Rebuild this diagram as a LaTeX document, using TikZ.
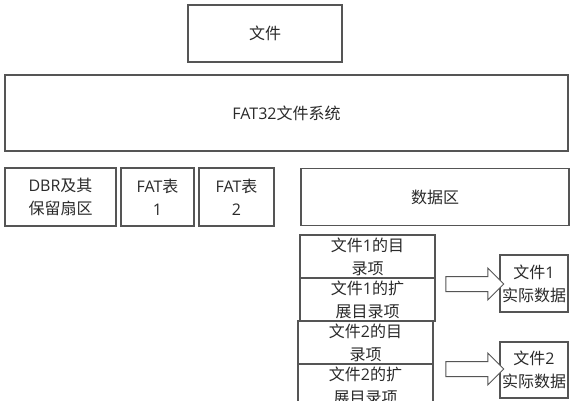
\documentclass[tikz,border=0pt]{standalone}
\usepackage{fontspec}
\setmainfont{Noto Sans CJK SC}
\newfontfamily\lat{Open Sans}
\usetikzlibrary{shapes.arrows}
\definecolor{linegray}{HTML}{555555}
\definecolor{textgray}{HTML}{2a2a2a}
\newcommand{\LT}[1]{{\lat #1}}
\tikzset{
  boxx/.style={draw=linegray, line width=1.2pt, rectangle, inner sep=1pt, align=center,
    text=textgray, font=\fontsize{16}{23}\selectfont},
  blockarr/.style={draw=linegray, line width=1pt, fill=white, single arrow,
    single arrow head extend=8.5pt, minimum height=58pt, inner xsep=0pt, inner ysep=7pt,
    single arrow tip angle=90, shape border rotate=0}
}
\begin{document}
\begin{tikzpicture}[x=1pt,y=-1pt]
\useasboundingbox (0,0) rectangle (575,400);
\clip (0,0) rectangle (575,400);
\fill[white] (0,0) rectangle (575,400);
\node[boxx, minimum width=154pt, minimum height=57pt] (file) at (265,33.5) {文件};
\node[boxx, minimum width=563pt, minimum height=76pt] (fat32) at (286.5,113) {\LT{FAT32}文件系统};
\node[boxx, minimum width=111pt, minimum height=58pt] (dbr) at (60.5,197) {\LT{DBR}及其\\保留扇区};
\node[boxx, minimum width=73pt, minimum height=58pt] (fat1) at (157.5,197) {\LT{FAT}表\\\LT{1}};
\node[boxx, minimum width=75pt, minimum height=58pt] (fat2) at (236.5,197) {\LT{FAT}表\\\LT{2}};
\node[boxx, minimum width=268pt, minimum height=57pt] (data) at (435,197) {数据区};
\node[boxx, minimum width=135pt, minimum height=43pt] (e1) at (367.5,256.5) {文件\LT{1}的目\\录项};
\node[boxx, minimum width=135pt, minimum height=43pt] (e2) at (367.5,299.5) {文件\LT{1}的扩\\展目录项};
\node[boxx, minimum width=135pt, minimum height=43pt] (e3) at (365.5,342.5) {文件\LT{2}的目\\录项};
\node[boxx, minimum width=135pt, minimum height=44pt] (e4) at (365.5,386) {文件\LT{2}的扩\\展目录项};
\node[boxx, minimum width=68pt, minimum height=57pt] (d1) at (534,283.5) {文件\LT{1}\\实际数据};
\node[boxx, minimum width=68pt, minimum height=56pt] (d2) at (534,370) {文件\LT{2}\\实际数据};
\node[blockarr] (a1) at (471,284) {};
\node[blockarr] (a2) at (471,369) {};
\end{tikzpicture}
\end{document}
